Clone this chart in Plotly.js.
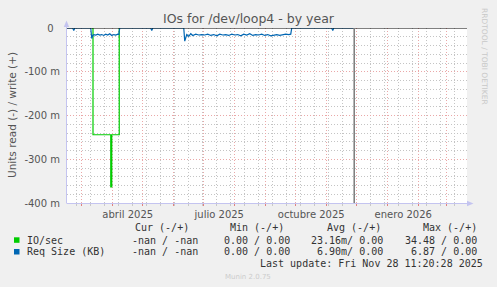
<!DOCTYPE html>
<html><head><meta charset="utf-8">
<script src="https://cdn.plot.ly/plotly-3.0.1.min.js"></script>
<style>html,body{margin:0;padding:0;background:#f0f0f0;}</style>
</head><body><div id="chart" style="width:497px;height:287px;"></div>
<script>
// ---- labels ----
const monthsEs = ['enero','febrero','marzo','abril','mayo','junio','julio','agosto','septiembre','octubre','noviembre','diciembre'];
const shortMonthsEs = ['ene','feb','mar','abr','may','jun','jul','ago','sep','oct','nov','dic'];
const daysEs = ['domingo','lunes','martes','miércoles','jueves','viernes','sábado'];
const shortDaysEs = ['dom','lun','mar','mié','jue','vie','sáb'];
const yTickVals = [0, -0.1, -0.2, -0.3, -0.4];
const yTickText = ['0\u00a0\u00a0', '-100 m', '-200 m', '-300 m', '-400 m'];
const xRange = ['2025-02-14 06:00', '2026-03-21 06:00'];
const lastUpdate = '2025-11-28 11:20';

// ---- IO/sec (read, negative) ----
const ioDates = ['2025-03-11','2025-03-12 06:00','2025-03-30','2025-03-31','2025-04-07 12:00'];
const ioValues = [0, -0.244, -0.363, -0.244, 0];

// ---- Req Size (KB) (read, negative) ----
const reqDates = [
 '2025-02-14','2025-02-20','2025-02-21','2025-02-22','2025-03-10',
 '2025-03-11','2025-03-12','2025-03-13','2025-03-15','2025-03-17','2025-03-19','2025-03-21','2025-03-23',
 '2025-03-25','2025-03-27','2025-03-29','2025-03-31','2025-04-02','2025-04-04','2025-04-06','2025-04-07','2025-04-08',
 '2025-05-09','2025-05-10','2025-05-11','2025-06-11',
 '2025-06-12','2025-06-14','2025-06-16','2025-06-18','2025-06-20','2025-06-23','2025-06-26','2025-06-29',
 '2025-07-02','2025-07-05','2025-07-08','2025-07-11','2025-07-14','2025-07-17','2025-07-20','2025-07-23',
 '2025-07-26','2025-07-29','2025-08-01','2025-08-04','2025-08-07','2025-08-10','2025-08-13','2025-08-16',
 '2025-08-19','2025-08-22','2025-08-25','2025-08-28','2025-08-31','2025-09-03','2025-09-06','2025-09-09',
 '2025-09-12','2025-09-15','2025-09-18','2025-09-21','2025-09-24','2025-09-26','2025-09-27',
 '2025-11-06','2025-11-07','2025-11-08','2025-11-28'];
const reqValues = [
 0, 0, -0.006, 0, 0,
 -0.024, -0.017, -0.015, -0.016, -0.014, -0.016, -0.015, -0.017,
 -0.014, -0.016, -0.013, -0.017, -0.015, -0.016, -0.014, -0.015, 0,
 0, -0.006, 0, 0,
 -0.030, -0.015, -0.019, -0.013, -0.017, -0.014, -0.016, -0.015,
 -0.016, -0.014, -0.017, -0.015, -0.018, -0.014, -0.016, -0.015,
 -0.017, -0.014, -0.016, -0.015, -0.018, -0.014, -0.016, -0.013,
 -0.017, -0.015, -0.016, -0.014, -0.017, -0.015, -0.018, -0.016,
 -0.015, -0.017, -0.016, -0.014, -0.015, -0.014, 0,
 0, -0.006, 0, 0];

// ---- legend table ----
const seriesNames = ['IO/sec', 'Req Size (KB)'];
const seriesColors = ['#00cc00', '#0066b3'];
const legendHeaders = ['Cur (-/+)', 'Min (-/+)', 'Avg (-/+)', 'Max (-/+)'];
const curText = ['-nan / -nan', '-nan / -nan'];
const minText = ['0.00 / 0.00', '0.00 / 0.00'];
const avgText = ['23.16m/ 0.00', '6.90m/ 0.00'];
const maxText = ['34.48 / 0.00', '6.87 / 0.00'];
const lastUpdateText = 'Last update: Fri Nov 28 11:20:28 2025';
const titleText = 'IOs for /dev/loop4 - by year';
const yTitleText = 'Units read (-) / write (+)';

Plotly.register({moduleType: 'locale', name: 'es', dictionary: {},
  format: {days: daysEs, shortDays: shortDaysEs, months: monthsEs, shortMonths: shortMonthsEs, date: '%d/%m/%Y'}});

// pixel -> paper helpers (plot area 67..467 x 28..203)
const L = 67, T = 28, W = 400, H = 175;
const px = x => (x - L) / W;
const py = y => (T + H - y) / H;

const traces = [
  {x: ioDates, y: ioValues, type: 'scatter', mode: 'lines', line: {color: seriesColors[0], width: 1.2, shape: 'hv'}, name: seriesNames[0], hoverinfo: 'skip'},
  {x: reqDates, y: reqValues, type: 'scatter', mode: 'lines', line: {color: seriesColors[1], width: 1.2}, name: seriesNames[1], hoverinfo: 'skip'}
];

const mono = {family: 'DejaVu Sans Mono', size: 10, color: '#333'};
const ann = [];
const colLeft = [135, 230, 327.3, 422.7];
legendHeaders.forEach((h, i) => ann.push({xref: 'paper', yref: 'paper', x: px(colLeft[i] - 1), y: py(227.5), text: h, showarrow: false, xanchor: 'left', yanchor: 'middle', font: mono, borderpad: 0}));
const rowY = [240, 251.7];
const colRight = [197.7, 290, 383.3, 476.7];
seriesNames.forEach((n, r) => {
  ann.push({xref: 'paper', yref: 'paper', x: px(25.7), y: py(rowY[r]), text: n, showarrow: false, xanchor: 'left', yanchor: 'middle', font: mono, borderpad: 0});
  [curText, minText, avgText, maxText].forEach((arr, c) => {
    ann.push({xref: 'paper', yref: 'paper', x: px(colRight[c] + 1), y: py(rowY[r]), text: arr[r].replace(/ /g, '\u00a0'), showarrow: false, xanchor: 'right', yanchor: 'middle', font: mono, borderpad: 0});
  });
});
ann.push({xref: 'paper', yref: 'paper', x: px(484), y: py(263.5), text: lastUpdateText.replace(/ /g, '\u00a0'), showarrow: false, xanchor: 'right', yanchor: 'middle', font: mono, borderpad: 0});
ann.push({xref: 'paper', yref: 'paper', x: px(247.5), y: py(276.5), text: 'Munin 2.0.75', showarrow: false, xanchor: 'center', yanchor: 'middle', font: {family: 'DejaVu Sans', size: 7, color: '#cccccc'}, borderpad: 0});
ann.push({xref: 'paper', yref: 'paper', x: px(485), y: py(56), text: 'RRDTOOL / TOBI OETIKER', showarrow: false, textangle: 90, xanchor: 'center', yanchor: 'middle', font: {family: 'DejaVu Sans', size: 7.5, color: '#c8c8c8'}, borderpad: 0});
ann.push({xref: 'paper', yref: 'paper', x: px(12), y: py(115), text: yTitleText, showarrow: false, textangle: -90, xanchor: 'center', yanchor: 'middle', font: {family: 'DejaVu Sans', size: 10.5, color: '#555'}, borderpad: 0});

const axisCol = '#c4c4f0';
const shapes = [
  {type: 'line', xref: 'paper', yref: 'y', x0: 0, x1: 1, y0: 0, y1: 0, line: {color: '#000', width: 1}, layer: 'above'},
  {type: 'line', xref: 'x', yref: 'paper', x0: lastUpdate, x1: lastUpdate, y0: 0, y1: 1, line: {color: 'rgb(128,128,128)', width: 1.6}, layer: 'above', opacity: 1},
  {type: 'line', xref: 'paper', yref: 'paper', x0: px(66.5), x1: px(66.5), y0: py(203), y1: py(26), line: {color: axisCol, width: 1}},
  {type: 'line', xref: 'paper', yref: 'paper', x0: px(66.5), x1: px(468), y0: py(203.5), y1: py(203.5), line: {color: axisCol, width: 1}},
  {type: 'path', xref: 'paper', yref: 'paper', path: `M ${px(66.5)},${py(20.5)} L ${px(63.8)},${py(27)} L ${px(69.2)},${py(27)} Z`, fillcolor: axisCol, line: {width: 0}},
  {type: 'path', xref: 'paper', yref: 'paper', path: `M ${px(473.5)},${py(203.5)} L ${px(467)},${py(200.8)} L ${px(467)},${py(206.2)} Z`, fillcolor: axisCol, line: {width: 0}},
  {type: 'rect', xref: 'paper', yref: 'paper', x0: px(14), x1: px(19.5), y0: py(237.3), y1: py(242.8), fillcolor: seriesColors[0], line: {width: 0}},
  {type: 'rect', xref: 'paper', yref: 'paper', x0: px(14), x1: px(19.5), y0: py(249), y1: py(254.5), fillcolor: seriesColors[1], line: {width: 0}}
];

const layout = {
  width: 497, height: 287, autosize: false,
  margin: {l: L, r: 497 - L - W, t: T, b: 287 - T - H, pad: 0},
  paper_bgcolor: '#f0f0f0', plot_bgcolor: '#ffffff',
  font: {family: 'DejaVu Sans', size: 10, color: '#555'},
  showlegend: false,
  title: {text: titleText, x: 0.5, xref: 'container', xanchor: 'center', y: 1 - 19 / 287, yref: 'container', yanchor: 'middle', font: {family: 'DejaVu Sans', size: 12.5, color: '#555'}},
  xaxis: {
    type: 'date', range: xRange, fixedrange: true,
    dtick: 'M1', tick0: '2025-04-01', ticklabelstep: 3, ticklabelmode: 'period', tickformat: '%B %Y',
    showgrid: true, gridcolor: '#eaa8a8', griddash: '1px,2px', gridwidth: 1,
    ticks: 'outside', ticklen: 2, tickcolor: '#e08080', tickfont: {size: 10, color: '#555'},
    minor: {dtick: 14 * 86400000, tick0: '2025-02-24', showgrid: true, gridcolor: '#c4c4c4', griddash: '1px,2px', ticks: 'outside', ticklen: 2, tickcolor: '#c8c8c8'},
    showline: false, zeroline: false
  },
  yaxis: {
    range: [-0.4, 0], fixedrange: true,
    tickmode: 'array', tickvals: yTickVals, ticktext: yTickText,
    showgrid: true, gridcolor: '#eaa8a8', griddash: '1px,2px', gridwidth: 1,
    minor: {dtick: 0.02, tick0: 0, showgrid: true, gridcolor: '#c4c4c4', griddash: '1px,2px'},
    ticks: '', ticklabelstandoff: 6, tickfont: {size: 10, color: '#555'},
    showline: false, zeroline: false
  },
  shapes: shapes,
  annotations: ann
};

Plotly.newPlot('chart', traces, layout, {staticPlot: true, displayModeBar: false, locale: 'es'});
</script></body></html>
